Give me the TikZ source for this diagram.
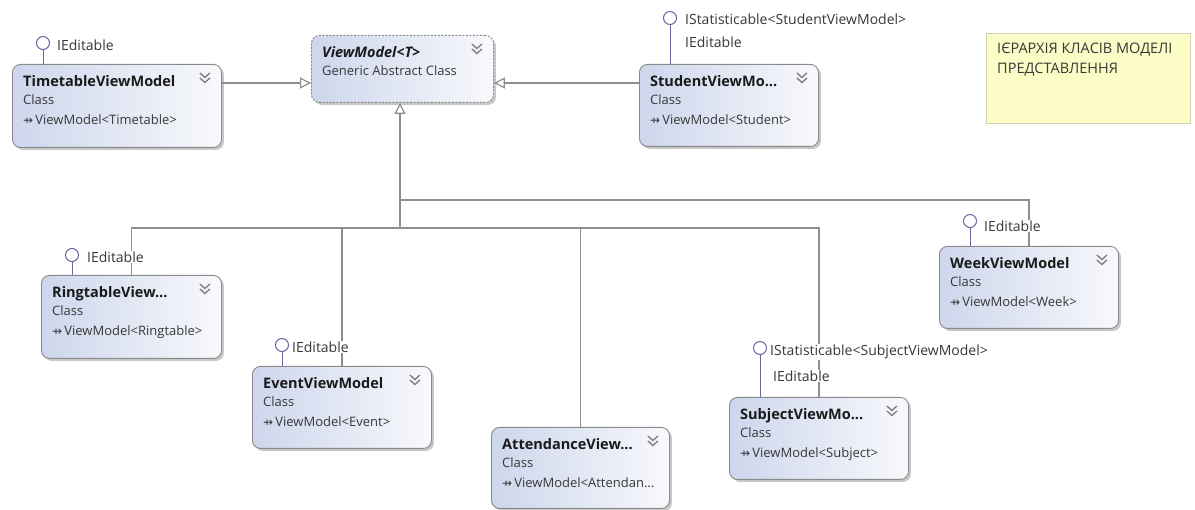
\documentclass[tikz,border=0pt]{standalone}
\usepackage{fontspec}
\setmainfont{Open Sans}
\newfontfamily\symfont{DejaVu Sans}
\usetikzlibrary{arrows.meta,shadows}

\definecolor{edge}{HTML}{8E8E8E}
\definecolor{boxline}{HTML}{8A8A8A}
\definecolor{boxleft}{HTML}{CDD6EC}
\definecolor{boxright}{HTML}{F8F9FC}
\definecolor{lolli}{HTML}{6E64A0}
\definecolor{notefill}{HTML}{FCFCC6}
\definecolor{noteline}{HTML}{CFCFB2}
\definecolor{txt}{HTML}{1A1A1A}
\definecolor{subtxt}{HTML}{383838}
\definecolor{chev}{HTML}{7A7A7A}

\tikzset{
  classbox/.style={draw=boxline, line width=0.9pt, rounded corners=8pt,
    left color=boxleft, right color=boxright, anchor=north west, inner sep=0pt,
    drop shadow={shadow xshift=2.5pt, shadow yshift=-2.5pt, fill=black, opacity=0.22}},
  abstractbox/.style={classbox, dash pattern=on 2pt off 1.5pt},
  ctitle/.style={font=\bfseries\fontsize{14.5}{16}\selectfont, text=txt, anchor=base west, inner sep=0pt},
  ckind/.style={font=\fontsize{13}{15}\selectfont, text=subtxt, anchor=base west, inner sep=0pt},
  iface/.style={font=\fontsize{14}{16}\selectfont, text=subtxt, fill=white, inner sep=1pt, anchor=west},
  chevron/.style={draw=chev, line width=1.3pt},
  lollihead/.style={circle, draw=lolli, fill=white, line width=1pt, minimum size=13pt, inner sep=0pt},
  lollistem/.style={draw=lolli, line width=1pt},
  edgeline/.style={draw=edge, line width=1.2pt},
  gen/.style={edgeline, -{Triangle[open, length=11pt, width=11pt, fill=white]}},
  notebox/.style={draw=noteline, fill=notefill, line width=0.8pt, anchor=north west, inner sep=0pt},
  notetext/.style={font=\fontsize{14.5}{20}\selectfont, text=subtxt, anchor=north west, align=left, inner sep=0pt}
}

% class shape: name, left, top, width, height, title, kind, base line
\newcommand\umlclass[9][classbox]{%
  \node[#1, minimum width=#5pt, minimum height=#6pt] (#2) at (#3,#4) {};
  \node[ctitle] (#2-title) at ([xshift=11pt,yshift=-23pt]#2.north west) {#7};
  \node[ckind] (#2-kind) at ([xshift=11pt,yshift=-41pt]#2.north west) {#8};
  \node[ckind] (#2-base) at ([xshift=11pt,yshift=-61pt]#2.north west) {#9};
  \draw[chevron] ([xshift=-22pt,yshift=-9pt]#2.north east) -- ++(5,4.5) -- ++(5,-4.5)
                 ([xshift=-22pt,yshift=-14pt]#2.north east) -- ++(5,4.5) -- ++(5,-4.5);
}
% interface lollipop: name, x, y, owning class
\newcommand\lollipop[4]{%
  \node[lollihead] (#1) at (#2,#3) {};
  \draw[lollistem] (#1.south) -- (#1.south |- #4.north);
}
\newcommand\inh{{\symfont\fontsize{12}{14}\selectfont ⇸}\,}

\begin{document}
\begin{tikzpicture}[x=1pt,y=-1pt]
\useasboundingbox[fill=white] (0,0) rectangle (1195,510);

% routing points of the generalization tree
\coordinate (hub) at (400,228);
\coordinate (hub2) at (400,200);
\coordinate (row) at (0,83);

% class shapes
\umlclass[abstractbox]{vm}{311}{35}{182}{67}{\textit{ViewModel<T>}}{Generic Abstract Class}{}
\umlclass{tt}{12}{64}{209}{83}{TimetableViewModel}{Class}{\inh ViewModel<Timetable>}
\umlclass{st}{639}{64}{179}{82}{StudentViewMo...}{Class}{\inh ViewModel<Student>}
\umlclass{rt}{41}{275}{180}{83}{RingtableView...}{Class}{\inh ViewModel<Ringtable>}
\umlclass{ev}{252}{366}{179}{82}{EventViewModel}{Class}{\inh ViewModel<Event>}
\umlclass{at}{491}{427}{178}{81}{AttendanceView...}{Class}{\inh ViewModel<Attendan...}
\umlclass{sj}{729}{397}{179}{82}{SubjectViewMo...}{Class}{\inh ViewModel<Subject>}
\umlclass{wk}{939}{246}{179}{82}{WeekViewModel}{Class}{\inh ViewModel<Week>}

% generalization connectors
\draw[gen] (tt.east |- row) -- (vm.west |- row);
\draw[gen] (st.west |- row) -- (vm.east |- row);
\draw[gen] (hub) -- (hub |- vm.south);
\draw[edgeline] (rt.north) |- (hub);
\draw[edgeline] (ev.north) |- (hub);
\draw[edgeline] (at.north) |- (hub);
\draw[edgeline] (sj.north) |- (hub);
\draw[edgeline] (wk.north) |- (hub2) -- (hub);

% implemented interfaces
\lollipop{tt-i}{43}{43}{tt}
\node[iface] (tt-i1) at (56,45) {IEditable};
\lollipop{st-i}{670}{18}{st}
\node[iface] (st-i1) at (684,19) {IStatisticable<StudentViewModel>};
\node[iface] (st-i2) at (684,42) {IEditable};
\lollipop{rt-i}{72}{255}{rt}
\node[iface] (rt-i1) at (86,257) {IEditable};
\lollipop{ev-i}{282}{345}{ev}
\node[iface] (ev-i1) at (291,347) {IEditable};
\lollipop{sj-i}{760}{348}{sj}
\node[iface] (sj-i1) at (769,352) {IStatisticable<SubjectViewModel>};
\node[iface] (sj-i2) at (772,376) {IEditable};
\lollipop{wk-i}{970}{221}{wk}
\node[iface] (wk-i1) at (983,226) {IEditable};

% comment note
\node[notebox, minimum width=204pt, minimum height=90pt] (note) at (986,33) {};
\node[notetext] (note-t) at (997,43) {ІЄРАРХІЯ КЛАСІВ МОДЕЛІ\\ПРЕДСТАВЛЕННЯ};
\end{tikzpicture}
\end{document}
